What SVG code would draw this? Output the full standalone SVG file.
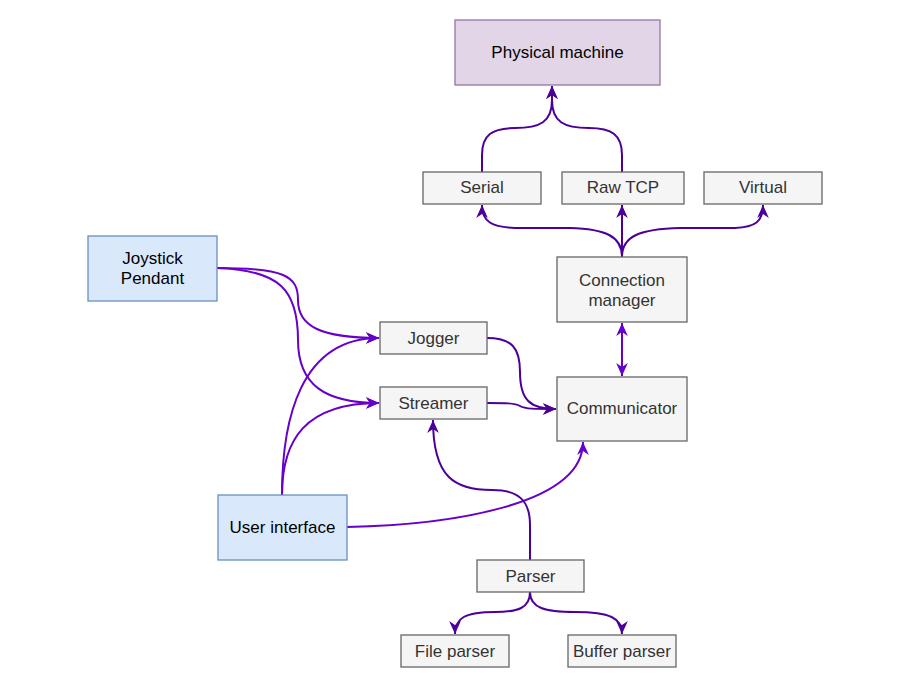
<svg xmlns="http://www.w3.org/2000/svg" width="916" height="684" viewBox="0 0 916 684">
<style>
.g rect{fill:#f5f5f5;stroke:#666666;stroke-width:1.3}
.p rect{fill:#e1d5e7;stroke:#9673a6;stroke-width:1.3}
.b rect{fill:#dae8fc;stroke:#6c8ebf;stroke-width:1.3}
text{font-family:"Liberation Sans",Arial,sans-serif;font-size:17px;text-anchor:middle;dominant-baseline:central}
.g text{fill:#333333}
.p text,.b text{fill:#000000}
.e path{fill:none;stroke-width:2}
.d{stroke:#4C0099}
.l{stroke:#6600CC}
</style>
<defs>
<marker id="ad" markerUnits="userSpaceOnUse" markerWidth="13" markerHeight="13" refX="10" refY="5" viewBox="0 0 10 10" orient="auto-start-reverse"><path d="M0,0.5 L10,5 L0,9.5 L3,5 z" fill="#4C0099"/></marker>
<marker id="al" markerUnits="userSpaceOnUse" markerWidth="13" markerHeight="13" refX="10" refY="5" viewBox="0 0 10 10" orient="auto-start-reverse"><path d="M0,0.5 L10,5 L0,9.5 L3,5 z" fill="#6600CC"/></marker>
</defs>
<g class="e" id="connectors">
<path class="d" d="M482,172 L482,155 C482,135 492,128 515,128 C540,128 552,122 552,100 L552,86" marker-end="url(#ad)"/>
<path class="d" d="M622,172 L622,155 C622,135 612,128 589,128 C564,128 552,122 552,100 L552,86" marker-end="url(#ad)"/>
<path class="d" d="M622,257 C622,236 605,229 570,228 L515,228 C492,227 482,222 482,205" marker-end="url(#ad)"/>
<path class="d" d="M622,257 L622,205" marker-end="url(#ad)"/>
<path class="d" d="M622,257 C622,236 640,229 680,228 L735,228 C755,227 763,222 763,205" marker-end="url(#ad)"/>
<path class="l" d="M622,323 L622,376" marker-start="url(#al)" marker-end="url(#al)"/>
<path class="l" d="M217,268 C285,268 298,276 298,300 C298,326 320,338 379,338" marker-end="url(#al)"/>
<path class="l" d="M217,268 C280,270 298,290 298,340 C298,385 325,403 379,403" marker-end="url(#al)"/>
<path class="l" d="M282,495 C282,420 300,338 379,338" marker-end="url(#al)"/>
<path class="l" d="M282,495 C282,440 305,403 379,403" marker-end="url(#al)"/>
<path class="d" d="M487,338 C512,338 520,348 520,372 C520,400 530,409 556,409" marker-end="url(#ad)"/>
<path class="d" d="M487,403 C505,403 515,403 520,406 C525,409 535,409 556,409" marker-end="url(#ad)"/>
<path class="l" d="M347,527 C450,525 583,505 583,442" marker-end="url(#al)"/>
<path class="d" d="M530,560 L530,525 C530,500 518,490 492,490 C455,490 433,478 433,420" marker-end="url(#ad)"/>
<path class="d" d="M530,592 C530,608 518,612 495,612 C465,612 455,618 455,634" marker-end="url(#ad)"/>
<path class="d" d="M530,592 C530,608 545,612 575,612 C610,612 622,618 622,634" marker-end="url(#ad)"/>
</g>
<g class="p" id="physical"><rect x="455" y="20" width="205" height="65"/><text x="557.5" y="52">Physical machine</text></g>
<g class="g" id="serial"><rect x="423" y="172" width="118" height="32"/><text x="482" y="187.5">Serial</text></g>
<g class="g" id="rawtcp"><rect x="562" y="172" width="122" height="32"/><text x="623" y="187.5">Raw TCP</text></g>
<g class="g" id="virtual"><rect x="704" y="172" width="118" height="32"/><text x="763" y="187.5">Virtual</text></g>
<g class="g" id="connmgr"><rect x="557" y="257" width="130" height="65"/><text x="622" y="280">Connection</text><text x="622" y="300">manager</text></g>
<g class="g" id="communicator"><rect x="557" y="377" width="130" height="64"/><text x="622" y="408.5">Communicator</text></g>
<g class="g" id="jogger"><rect x="380" y="322" width="107" height="32"/><text x="433.5" y="338">Jogger</text></g>
<g class="g" id="streamer"><rect x="380" y="387" width="107" height="32"/><text x="433.5" y="403">Streamer</text></g>
<g class="b" id="joystick"><rect x="88" y="236" width="129" height="65"/><text x="152.5" y="258">Joystick</text><text x="152.5" y="278">Pendant</text></g>
<g class="b" id="ui"><rect x="218" y="495" width="129" height="65"/><text x="282.5" y="527">User interface</text></g>
<g class="g" id="parser"><rect x="477" y="560" width="107" height="32"/><text x="530.5" y="576">Parser</text></g>
<g class="g" id="fileparser"><rect x="401" y="635" width="108" height="32"/><text x="455" y="651">File parser</text></g>
<g class="g" id="bufferparser"><rect x="568" y="635" width="108" height="32"/><text x="622" y="651">Buffer parser</text></g>
</svg>
